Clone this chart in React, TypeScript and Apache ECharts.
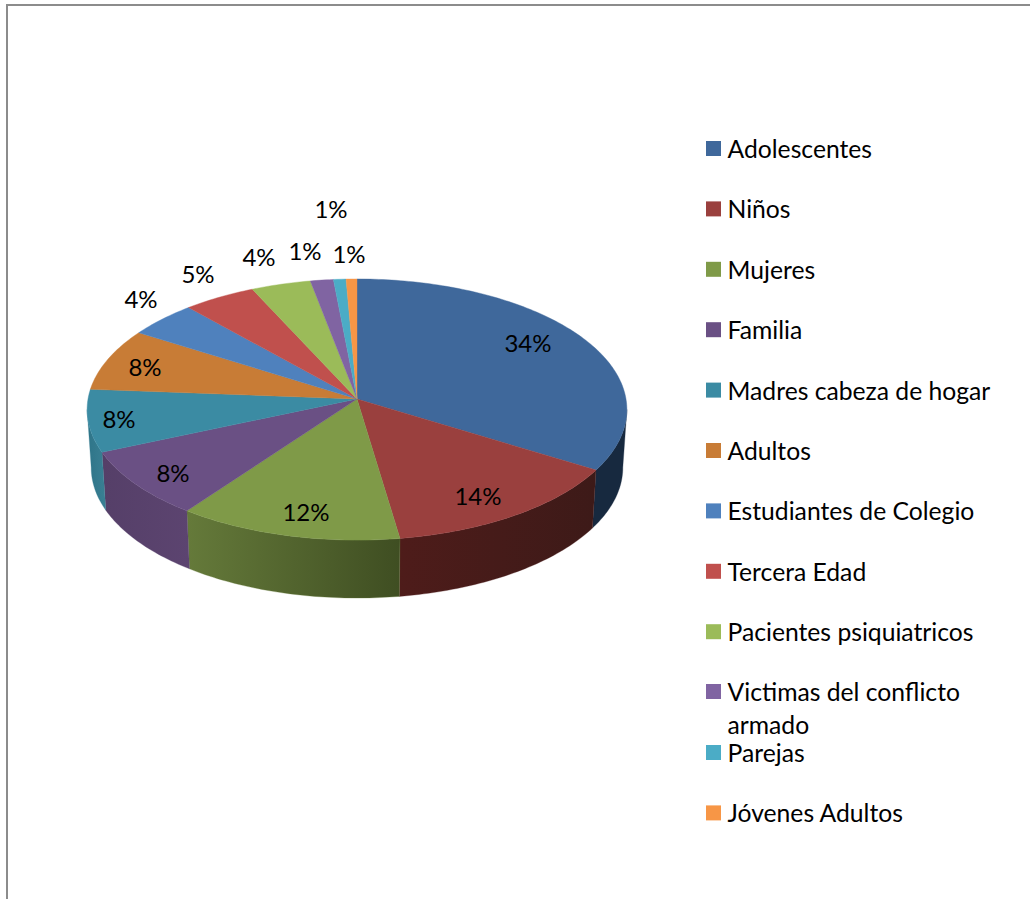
import React, { useEffect, useRef } from "react";
import * as echarts from "echarts";

const categories = [
  "Adolescentes", "Niños", "Mujeres", "Familia", "Madres cabeza de hogar", "Adultos",
  "Estudiantes de Colegio", "Tercera Edad", "Pacientes psiquiatricos",
  "Victimas del conflicto armado", "Parejas", "Jóvenes Adultos",
];
const values = [33.8, 13.85, 12.42, 8.43, 7.7, 7.75, 4.49, 4.7, 3.86, 1.49, 0.81, 0.7];
const topColors = [
  "#3F689B", "#9A403E", "#7F9A48", "#6A5084", "#3B8BA3", "#C87C36",
  "#4F81BD", "#C0504D", "#9BBB59", "#8064A2", "#4BACC6", "#F79646",
];
const wallColors: [string, string][] = [
  ["#17293F", "#17293F"], ["#4E1C1A", "#3D1A18"], ["#657A3A", "#3F4E22"], ["#5C4470", "#553F68"],
  ["#3A8094", "#2E7488"], ["#2E7488", "#3A8094"], ["#3A5F8C", "#3A5F8C"], ["#8E3B39", "#8E3B39"],
  ["#738A42", "#738A42"], ["#5F4A78", "#5F4A78"], ["#377F92", "#377F92"], ["#B66F34", "#B66F34"],
];
const labelCenters = [
  [528, 342], [478, 495], [306, 511], [173, 472], [119, 418], [145, 366],
  [141, 298], [198, 273], [259, 256], [305, 250], [331, 208], [349, 253],
];

const FONT = "Lato";
const FONT_SIZE = 24;
const LEGEND_FONT_SIZE = 24.7;
const TOTAL = values.reduce((s, v) => s + v, 0);

// Perspective projection of the pie's rim
const CX = 357, CY = 399, RX = 269, RY = 129.7, K = 0.0805;
const DEPTH = 58, BOTTOM_SCALE = 0.985;
const rim = (deg: number, bottom = false): number[] => {
  const t = (deg * Math.PI) / 180;
  const w = 1 / (1 + K * Math.cos(t));
  return [
    CX + RX * Math.sin(t) * w * (bottom ? BOTTOM_SCALE : 1),
    CY - RY * Math.cos(t) * w + (bottom ? DEPTH : 0),
  ];
};
const arc = (a: number, b: number, bottom = false): number[][] => {
  const n = Math.max(2, Math.ceil(Math.abs(b - a)));
  const pts: number[][] = [];
  for (let i = 0; i <= n; i++) pts.push(rim(a + ((b - a) * i) / n, bottom));
  return pts;
};
const WALL_FROM = 94.6, WALL_TO = 265.4;

const makeSeries = (i: number) => {
  const before = values.slice(0, i).reduce((s, v) => s + v, 0);
  return {
    type: "custom",
    name: categories[i],
    coordinateSystem: "none",
    itemStyle: { color: topColors[i] },
    data: [values[i]],
    silent: true,
    renderItem: (_p: any, api: any) => {
      const start = (before / TOTAL) * 360;
      const end = start + (api.value(0) / TOTAL) * 360;
      const children: any[] = [];
      const a = Math.max(start, WALL_FROM), b = Math.min(end, WALL_TO);
      if (b > a) {
        children.push({
          type: "polygon",
          z2: 1,
          shape: { points: [...arc(a, b), ...arc(b, a, true)] },
          style: {
            fill: new echarts.graphic.LinearGradient(0, 0, 1, 0, [
              { offset: 0, color: wallColors[i][i === 1 || i === 2 ? 0 : 1] },
              { offset: 1, color: wallColors[i][i === 1 || i === 2 ? 1 : 0] },
            ]),
            stroke: wallColors[i][0],
            lineWidth: 0.3,
          },
        });
      }
      children.push({
        type: "polygon",
        z2: 2,
        shape: { points: [[CX, CY], ...arc(start, end)] },
        style: { fill: topColors[i], stroke: topColors[i], lineWidth: 0.4 },
      });
      children.push({
        type: "text",
        z2: 10,
        style: {
          text: `${Math.round((api.value(0) / TOTAL) * 100)}%`,
          x: labelCenters[i][0],
          y: labelCenters[i][1],
          align: "center",
          verticalAlign: "middle",
          fill: "#000",
          font: `${FONT_SIZE}px ${FONT}`,
        },
      });
      return { type: "group", children };
    },
  };
};

const legendBase = {
  orient: "vertical",
  left: 706,
  padding: 0,
  icon: "rect",
  itemWidth: 15,
  itemHeight: 15,
  itemGap: 23.4,
  selectedMode: false,
  textStyle: {
    fontFamily: FONT,
    fontSize: LEGEND_FONT_SIZE,
    color: "#000",
    lineHeight: 33,
    padding: [0, 0, 4, 1.5],
  },
};

export default function App() {
  const ref = useRef<HTMLDivElement>(null);
  useEffect(() => {
    document.body.style.margin = "0";
    const chart = echarts.init(ref.current!, null, { renderer: "svg" });
    chart.setOption({
      animation: false,
      backgroundColor: "#fff",
      graphic: [
        { type: "rect", shape: { x: 6, y: 4, width: 1024, height: 2 }, style: { fill: "#8c8c8c" } },
        { type: "rect", shape: { x: 6, y: 4, width: 2, height: 895 }, style: { fill: "#8c8c8c" } },
      ],
      legend: [
        { ...legendBase, top: 130, data: categories.slice(0, 9) },
        {
          ...legendBase,
          top: 640,
          data: [categories[9]],
          formatter: () => " \nVictimas del conflicto\narmado",
        },
        { ...legendBase, top: 734, data: categories.slice(10) },
      ],
      series: categories.map((_, i) => makeSeries(i)),
    });
    return () => chart.dispose();
  }, []);
  return <div ref={ref} style={{ width: 1030, height: 899 }} />;
}
